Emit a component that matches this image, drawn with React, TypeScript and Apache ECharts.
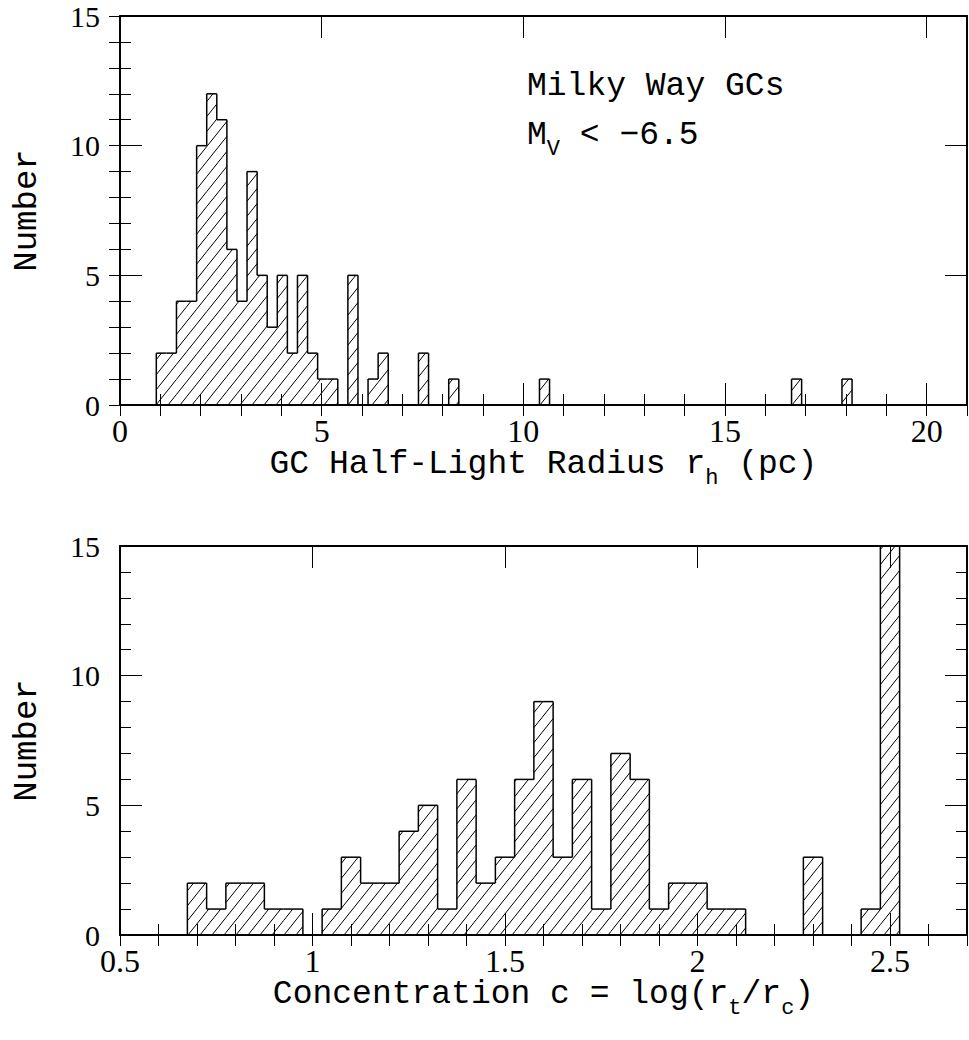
import React, { useEffect, useRef } from 'react';
import * as echarts from 'echarts';

// ---------------- data ----------------
// Top panel: half-light radius histogram (pc)
const rhBinStart = 0.9;
const rhBinWidth = 0.25;
const rhCounts = [
  2, 2, 4, 4, 10, 12, 11, 6, 4, 9, 5, 3, 5, 2, 5, 2, 1, 1, 0,
  5, 0, 1, 2, 0, 0, 0, 2, 0, 0, 1,
  0, 0, 0, 0, 0, 0, 0, 0, 1,
  0, 0, 0, 0, 0, 0, 0, 0, 0, 0, 0, 0, 0, 0, 0, 0, 0, 0, 0, 0, 0, 0, 0, 0,
  1,
  0, 0, 0, 0,
  1,
];

// Bottom panel: concentration histogram
const cBinStart = 0.675;
const cBinWidth = 0.05;
const cCounts = [
  2, 1, 2, 2, 1, 1, 0, 1, 3, 2,
  2, 4, 5, 1, 6, 2, 3, 6, 9, 3,
  6, 1, 7, 6, 1, 2, 2, 1, 1, 0,
  0, 0, 3, 0, 0, 1, 15,
];

const rhTicks = { min: 0, max: 21, major: 5, minor: 1 };
const cTicks = { min: 0.5, max: 2.7, major: 0.5, minor: 0.1 };
const yTicks = { min: 0, max: 15, major: 5, minor: 1 };

const topTitle = '{a|GC Half-Light Radius r}{s|h}{a| (pc)}';
const bottomTitle = '{a|Concentration c = log(r}{s|t}{a|/r}{s|c}{a|)}';
const yTitle = 'Number';
const noteLine1 = 'Milky Way GCs';
const noteLine2 = '{a|M}{s|V}{a| < \u22126.5}';

// ---------------- styling ----------------
const SERIF = '"Liberation Serif", "Times New Roman", serif';
const MONO = '"Liberation Mono", "Courier New", monospace';
const HATCH_SLOPE = 1.25;
const HATCH_GAP = 15;
const MAJOR_LEN = 22;
const MINOR_LEN = 11;

function buildBins(start: number, width: number, counts: number[]) {
  return counts.map((c, k) => [
    start + k * width,
    start + (k + 1) * width,
    c,
    k > 0 ? counts[k - 1] : 0,
    k === counts.length - 1 ? 1 : 0,
  ]);
}

const renderHist = (params: any, api: any) => {
  const left = api.value(0);
  const right = api.value(1);
  const h = api.value(2);
  const prev = api.value(3);
  const last = api.value(4);
  const bl = api.coord([left, 0]);
  const tr = api.coord([right, h]);
  const pv = api.coord([left, prev]);
  const x0 = bl[0], x1 = tr[0], yb = bl[1], yt = tr[1];
  const kids: any[] = [];
  const hs = { stroke: '#000', lineWidth: 1 };
  const os = { stroke: '#000', lineWidth: 1.5 };
  if (h > 0) {
    const s = HATCH_SLOPE;
    const cMin = yt + s * x0;
    const cMax = yb + s * x1;
    for (let c = Math.ceil(cMin / HATCH_GAP) * HATCH_GAP; c <= cMax; c += HATCH_GAP) {
      const xa = Math.max(x0, (c - yb) / s);
      const xb = Math.min(x1, (c - yt) / s);
      if (xb - xa > 0.3) {
        kids.push({ type: 'line', shape: { x1: xa, y1: c - s * xa, x2: xb, y2: c - s * xb }, style: hs });
      }
    }
    kids.push({ type: 'line', shape: { x1: x0, y1: yt, x2: x1, y2: yt }, style: os });
  }
  if (prev !== h) {
    kids.push({ type: 'line', shape: { x1: x0, y1: pv[1], x2: x0, y2: yt }, style: os });
  }
  if (last && h > 0) {
    kids.push({ type: 'line', shape: { x1: x1, y1: yt, x2: x1, y2: yb }, style: os });
  }
  return { type: 'group', children: kids };
};

const richTitle = {
  a: { fontFamily: MONO, fontSize: 33, color: '#000', padding: [0, 0, 9, 0], verticalAlign: 'bottom' },
  s: { fontFamily: MONO, fontSize: 22, color: '#000', verticalAlign: 'bottom' },
};

function makeXAxes(grid: number, t: any, name: string) {
  const line = { show: true, onZero: false, lineStyle: { color: '#000', width: 2 } };
  const base = { type: 'value', gridIndex: grid, min: t.min, max: t.max, splitLine: { show: false } };
  return [
    {
      ...base, position: 'bottom', interval: t.major, axisLine: line,
      axisTick: { show: true, inside: true, length: MAJOR_LEN, lineStyle: { color: '#000', width: 1 } },
      axisLabel: { show: true, showMaxLabel: false, fontFamily: SERIF, fontSize: 32, color: '#000', margin: 10 },
      name, nameLocation: 'middle', nameGap: 30, nameTextStyle: { rich: richTitle },
    },
    {
      ...base, position: 'bottom', interval: t.minor, axisLine: { show: false },
      axisTick: { show: true, inside: true, length: MINOR_LEN, lineStyle: { color: '#000', width: 1 } },
      axisLabel: { show: false },
    },
    {
      ...base, position: 'top', interval: t.major, axisLine: line,
      axisTick: { show: true, inside: true, length: MAJOR_LEN, lineStyle: { color: '#000', width: 1 } },
      axisLabel: { show: false },
    },
    {
      ...base, position: 'top', interval: t.minor, axisLine: { show: false },
      axisTick: { show: true, inside: true, length: MINOR_LEN, lineStyle: { color: '#000', width: 1 } },
      axisLabel: { show: false },
    },
  ];
}

function makeYAxes(grid: number, t: any) {
  const line = { show: true, onZero: false, lineStyle: { color: '#000', width: 2 } };
  const base = { type: 'value', gridIndex: grid, min: t.min, max: t.max, splitLine: { show: false } };
  return [
    {
      ...base, position: 'left', interval: t.major, axisLine: line,
      axisTick: { show: true, inside: true, length: MAJOR_LEN, lineStyle: { color: '#000', width: 1 } },
      axisLabel: { show: true, fontFamily: SERIF, fontSize: 30, lineHeight: 24, color: '#000', margin: 20 },
      name: yTitle, nameLocation: 'middle', nameRotate: 90, nameGap: 76,
      nameTextStyle: { fontFamily: MONO, fontSize: 34, color: '#000' },
    },
    {
      ...base, position: 'left', interval: t.minor, axisLine: { show: false },
      axisTick: { show: true, inside: true, length: MINOR_LEN, lineStyle: { color: '#000', width: 1 } },
      axisLabel: { show: false },
    },
    {
      ...base, position: 'right', interval: t.major, axisLine: line,
      axisTick: { show: true, inside: true, length: MAJOR_LEN, lineStyle: { color: '#000', width: 1 } },
      axisLabel: { show: false },
    },
    {
      ...base, position: 'right', interval: t.minor, axisLine: { show: false },
      axisTick: { show: true, inside: true, length: MINOR_LEN, lineStyle: { color: '#000', width: 1 } },
      axisLabel: { show: false },
    },
  ];
}

export default function App() {
  const ref = useRef<HTMLDivElement>(null);
  useEffect(() => {
    if (!ref.current) return;
    const chart = echarts.init(ref.current, undefined, { renderer: 'svg' });
    const option: any = {
      animation: false,
      backgroundColor: '#fff',
      grid: [
        { left: 120, right: 2, top: 16, height: 389, outerBoundsMode: 'none' },
        { left: 120, right: 2, top: 546, height: 389, outerBoundsMode: 'none' },
      ],
      xAxis: [...makeXAxes(0, rhTicks, topTitle), ...makeXAxes(1, cTicks, bottomTitle)],
      yAxis: [...makeYAxes(0, yTicks), ...makeYAxes(1, yTicks)],
      series: [
        {
          type: 'custom', xAxisIndex: 0, yAxisIndex: 0, clip: true,
          renderItem: renderHist, data: buildBins(rhBinStart, rhBinWidth, rhCounts),
          encode: { x: [0, 1], y: [2] }, silent: true,
        },
        {
          type: 'custom', xAxisIndex: 4, yAxisIndex: 4, clip: true,
          renderItem: renderHist, data: buildBins(cBinStart, cBinWidth, cCounts),
          encode: { x: [0, 1], y: [2] }, silent: true,
        },
      ],
      graphic: [
        {
          type: 'text', left: 527, top: 70,
          style: { text: noteLine1, fontFamily: MONO, fontSize: 33, fill: '#000' },
        },
        {
          type: 'text', left: 527, top: 119,
          style: {
            text: noteLine2,
            rich: {
              a: { fontFamily: MONO, fontSize: 33, fill: '#000', padding: [0, 0, 8, 0], verticalAlign: 'bottom' },
              s: { fontFamily: MONO, fontSize: 22, fill: '#000', verticalAlign: 'bottom' },
            },
          },
        },
      ],
    };
    chart.setOption(option);
    return () => chart.dispose();
  }, []);
  return <div ref={ref} style={{ position: 'fixed', left: 0, top: 0, width: 969, height: 1040 }} />;
}
